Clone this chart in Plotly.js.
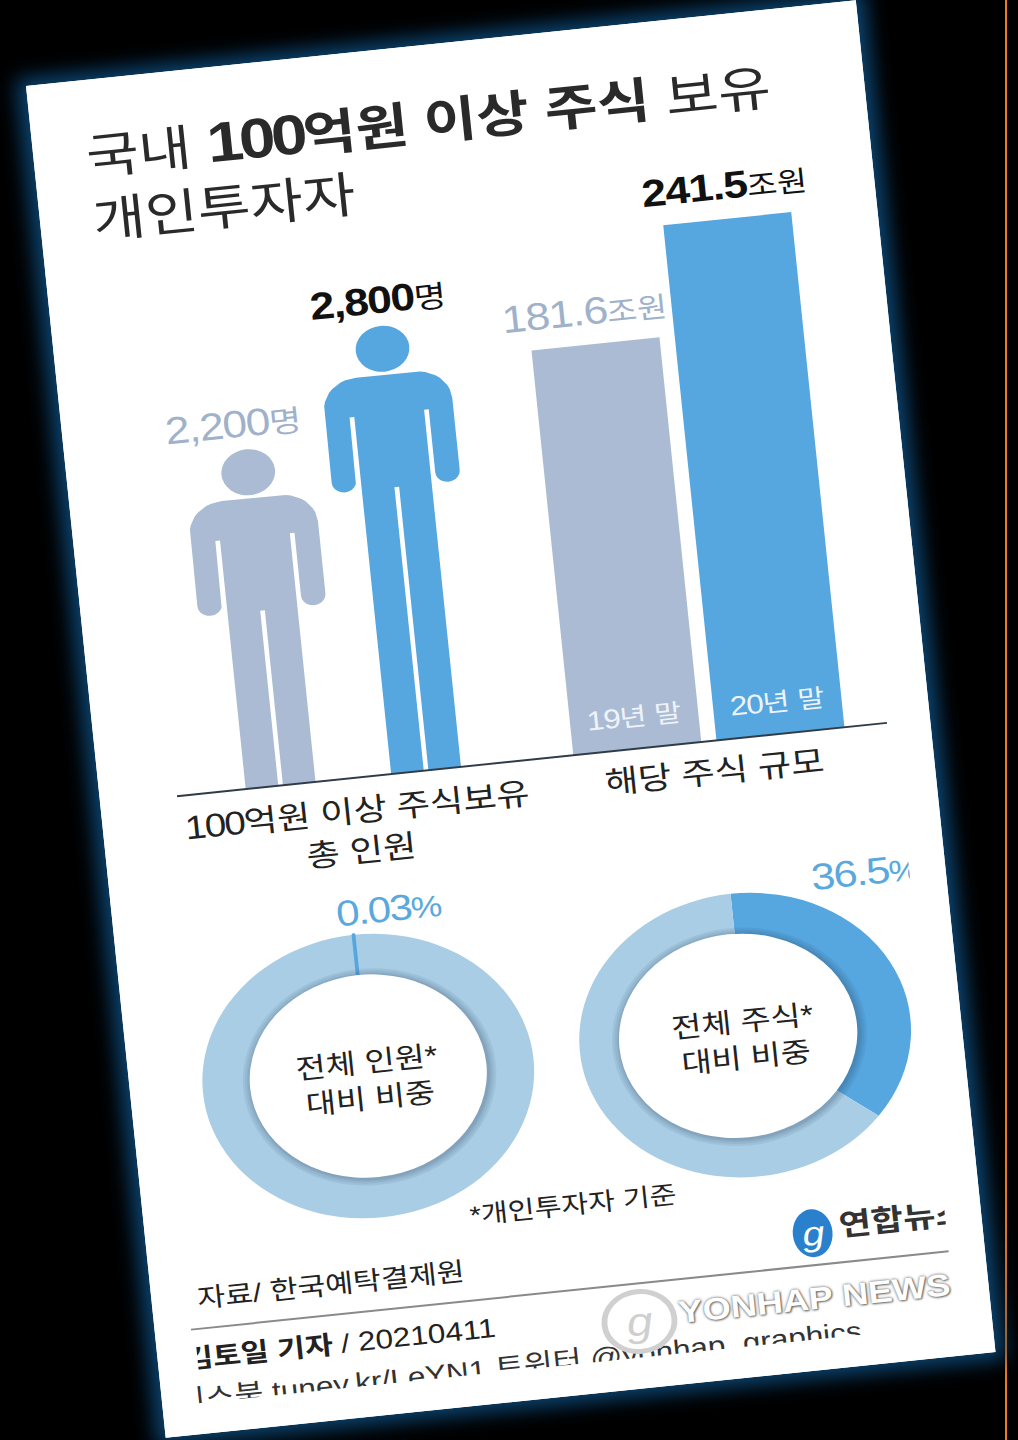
<!DOCTYPE html>
<html lang="ko">
<head>
<meta charset="utf-8">
<script src="https://cdn.plot.ly/plotly-3.0.1.min.js"></script>
<style>
html,body{margin:0;padding:0;background:#000;width:1018px;height:1440px;overflow:hidden}
#rule{position:absolute;left:1005px;top:0;width:2px;height:1440px;background:#ee7a1c}
#card{position:absolute;left:26px;top:86px;width:713px;height:1359px;background:#fff;
  transform-origin:0 0;transform:rotate(-5.9deg) scale(1.17,1);
  box-shadow:0 0 18px 8px #0c4470}
</style>
</head>
<body>
<div id="rule"></div>
<div id="card"></div>
<script>
// ---- data ----
const peopleX = [0, 1];
const peopleValues = [2200, 2800];
const peopleLabels = ['2,200', '2,800'];
const peopleUnit = '명';
const stockCategories = ['19년 말', '20년 말'];
const stockYears = ['19', '20'];
const stockValues = [181.6, 241.5];
const stockLabels = ['181.6', '241.5'];
const stockUnit = '조원';
const shareOfPeople = [99.97, 0.03];
const shareOfStock = [36.5, 63.5];
const shareLabels = ['0.03', '36.5'];
const shareCentre = ['전체 인원*<br>대비 비중', '전체 주식*<br>대비 비중'];
const footnote = '*개인투자자 기준';
const source = '자료/ 한국예탁결제원';
const logoText = '연합뉴스';
const watermark = 'YONHAP NEWS';
const socialLine = '페이스북 tuney.kr/LeYN1 트위터 @yonhap_graphics';

// ---- styling / layout ----
const W = 713, H = 1359;
const FONT = '"Liberation Sans","Noto Sans CJK KR",sans-serif';
const GREY = '#abbbd3', BLUE = '#56a6df', PALE = '#a9cde5';
const GREYTXT = '#a0b1ca', BLUETXT = '#5aa8dc', INK = '#222222';
const px = x => x / W, py = y => 1 - y / H;
const BASE_Y = 722, TOP_Y = 122;
const barMin = -38, barScale = 1.853;
const peopleMin = 340, peopleScale = 0.1817;
// digits are larger and tracked tight: the reference's figures are tall and slim
const num = (s, size, track, bold) => {
  const t = '<span style="font-size:' + size + 'px;letter-spacing:' + (-track) + 'px">' + s + '</span>';
  return bold ? '<b>' + t + '</b>' : t;
};
const unit = (s, size) => '<span style="font-size:' + size + 'px">' + s + '</span>';

const titleLines = ['국내 <b>' + num('100', 56, 3.6) + '억원 이상 주식</b> 보유', '개인투자자'];
const groupLabels = [num('100', 33, 1.5) + '억원 이상 주식보유<br>총 인원', '해당 주식 규모'];
const byline = '<b>김토일 기자</b> / ' + num('20210411', 27, 0);

const data = [];
// stock bars
data.push({type:'bar', x:stockCategories, y:stockValues.map(v => v - barMin), base:barMin,
  marker:{color:[GREY, BLUE], line:{width:0}}, xaxis:'x', yaxis:'y', hoverinfo:'skip', showlegend:false});

// pictogram people: a fixed upper body, legs stretched to the value
function arc(cx, cy, r, a0, a1){
  const out = [];
  for (let i = 0; i <= 10; i++){
    const a = (a0 + (a1 - a0) * i / 10) * Math.PI / 180;
    out.push([cx + r * Math.cos(a), cy + r * Math.sin(a)]);
  }
  return out;
}
function outline(h){
  return [[-25,49],[25,49]]
    .concat(arc(25,79,30,-90,0))
    .concat(arc(44.5,151.5,10.5,0,180))
    .concat([[34,88],[30,88],[30,h],[2,h],[2,162],[-2,162],[-2,h],[-30,h],[-30,88],[-34,88]])
    .concat(arc(-44.5,151.5,10.5,0,180))
    .concat(arc(-25,79,30,180,270));
}
peopleValues.forEach((v, i) => {
  const h = (v - peopleMin) * peopleScale;
  const pts = outline(h);
  const col = i === 0 ? GREY : BLUE;
  data.push({type:'scatter', mode:'lines', fill:'toself', fillcolor:col, line:{width:0, color:col},
    x:pts.map(p => peopleX[i] + p[0] / 125), y:pts.map(p => v - p[1] / peopleScale),
    xaxis:'x2', yaxis:'y2', hoverinfo:'skip', showlegend:false});
  data.push({type:'scatter', mode:'markers', x:[peopleX[i]], y:[v - 23 / peopleScale],
    marker:{size:46, color:col, line:{width:0}}, xaxis:'x2', yaxis:'y2', hoverinfo:'skip', showlegend:false});
});

// donuts
function donut(values, colors, widths, cx, cy){
  const r = 142;
  return {type:'pie', values:values, sort:false, direction:'clockwise', rotation:0, hole:0.6,
    textinfo:'none', hoverinfo:'skip', showlegend:false,
    marker:{colors:colors, line:{color:colors, width:widths}},
    domain:{x:[px(cx - r), px(cx + r)], y:[py(cy + r), py(cy - r)]}};
}
data.push(donut(shareOfPeople, [PALE, BLUE], [0, 3], 204, 1020));
data.push(donut(shareOfStock, [BLUE, PALE], [0, 0], 528, 1018));

// text that the reference shows cut off at the edge of its crop
function clipText(text, x, y, pos, font, band){
  data.push({type:'scatter', mode:'text', text:[text], x:[x], y:[y], textposition:pos,
    textfont:Object.assign({family:FONT}, font), cliponaxis:true,
    xaxis:band ? 'x4' : 'x3', yaxis:band ? 'y4' : 'y3', hoverinfo:'skip', showlegend:false});
}
clipText(num(shareLabels[1], 37, 1.4) + unit('%', 30), 598, 872, 'middle right', {size:35, color:BLUETXT});
clipText(logoText, 591, 1220, 'middle right', {size:30, color:'#333333', weight:700});
clipText(watermark, 447, 1290, 'middle right', {size:31, color:'#ffffff', weight:700, shadow:'0 0 3px #555, 1px 1px 2px #777'});
clipText(byline, 290, 1286, 'middle left', {size:26, color:INK});
clipText(socialLine, 601, 1313, 'bottom left', {size:27, color:'#333333'}, true);

const ann = [];
function textAt(text, X, Y, size, color, anchor){
  ann.push({text, xref:'paper', yref:'paper', x:px(X), y:py(Y), xanchor:anchor || 'center', yanchor:'middle',
    showarrow:false, font:{family:FONT, size, color}});
}
// value labels tied to their marks
const peopleShift = [-9, 0];
peopleValues.forEach((v, i) => ann.push({
  text:num(peopleLabels[i], 38, 1.2, i === 1) + unit(peopleUnit, 30),
  xref:'x2', yref:'y2', x:peopleX[i], y:v, yanchor:'middle', yshift:26, xshift:peopleShift[i],
  showarrow:false, font:{family:FONT, size:36, color:i ? '#111111' : GREYTXT}}));
stockValues.forEach((v, i) => {
  ann.push({text:num(stockLabels[i], 38, 1, i === 1) + unit(stockUnit, 28),
    xref:'x', yref:'y', x:stockCategories[i], y:v, yanchor:'middle', yshift:33, xshift:i ? 0 : -7,
    showarrow:false, font:{family:FONT, size:36, color:i ? '#111111' : GREYTXT}});
  ann.push({text:num(stockYears[i], 27, 1) + stockCategories[i].slice(2), xref:'x', yref:'y', x:stockCategories[i], y:barMin, yanchor:'middle', yshift:32,
    showarrow:false, font:{family:FONT, size:25, color:'#eef3f9'}});
});
textAt(groupLabels[0], 218, 774, 31, INK);
textAt(groupLabels[1], 525, 753, 31, INK);
textAt(num(shareLabels[0], 36, 1.5) + unit('%', 30), 236, 855, 34, BLUETXT);
textAt(shareCentre[0], 204, 1024, 28, INK);
textAt(shareCentre[1], 527, 1022, 28, INK);
textAt(footnote, 367, 1169, 25, INK);
textAt(source, 154, 1224, 26, INK);
textAt('<i>g</i>', 568, 1222, 34, '#ffffff');
textAt('<i>g</i>', 413, 1292, 40, '#cfcfcf');

function ring(cx, cy, r, fill, lineColor, lineWidth){
  return {type:'circle', xref:'paper', yref:'paper', layer:'above',
    x0:px(cx - r), x1:px(cx + r), y0:py(cy + r), y1:py(cy - r),
    fillcolor:fill, line:{color:lineColor || fill, width:lineWidth || 0}};
}
const shapes = [
  {type:'line', xref:'paper', yref:'paper', x0:px(66), x1:px(676), y0:py(BASE_Y), y1:py(BASE_Y), line:{color:'#2f3b47', width:2}, layer:'above'},
  {type:'line', xref:'paper', yref:'paper', x0:px(31), x1:px(682), y0:py(1254), y1:py(1254), line:{color:'#8a8a8a', width:2}, layer:'above'}
];
[[205, 1021, 101.5], [523, 1019, 102]].forEach(c => {
  [7, 5, 3, 1.5].forEach(d => shapes.push(ring(c[0], c[1], c[2] + d, 'rgba(35,60,85,0.08)')));
});
shapes.push(ring(204, 1020, 101.5, '#ffffff'), ring(522, 1018, 102, '#ffffff'));
shapes.push({type:'circle', xref:'paper', yref:'paper', x0:px(551), x1:px(585), y0:py(1246), y1:py(1198), fillcolor:'#2a80cc', line:{width:0}, layer:'above'});
shapes.push(ring(413, 1292, 30, '#ffffff', '#d0d0d0', 5));

const hidden = {visible:false, fixedrange:true};
const layout = {
  width:W, height:H, margin:{l:0, r:0, t:0, b:0, pad:0},
  paper_bgcolor:'#ffffff', plot_bgcolor:'rgba(0,0,0,0)', showlegend:false, hovermode:false,
  font:{family:FONT, color:INK},
  title:{text:titleLines.join('<br>'), x:px(45), xanchor:'left', xref:'paper',
    y:py(95), yanchor:'middle', yref:'paper', font:{family:FONT, size:49, color:'#2a2a2a'}},
  xaxis:Object.assign({}, hidden, {type:'category', domain:[px(400), px(646)], range:[-0.5, 1.5], anchor:'y'}),
  yaxis:Object.assign({}, hidden, {domain:[py(BASE_Y), py(TOP_Y)], range:[barMin, barMin + (BASE_Y - TOP_Y) / barScale], anchor:'x'}),
  xaxis2:Object.assign({}, hidden, {domain:[px(92.5), px(342.5)], range:[-0.5, 1.5], anchor:'y2'}),
  yaxis2:Object.assign({}, hidden, {domain:[py(BASE_Y), py(TOP_Y)], range:[peopleMin, peopleMin + (BASE_Y - TOP_Y) / peopleScale], anchor:'x2'}),
  xaxis3:Object.assign({}, hidden, {domain:[px(34), px(682)], range:[34, 682], anchor:'y3'}),
  yaxis3:Object.assign({}, hidden, {domain:[0, 1], range:[H, 0], anchor:'x3'}),
  xaxis4:Object.assign({}, hidden, {domain:[px(31), px(682)], range:[31, 682], anchor:'y4'}),
  yaxis4:Object.assign({}, hidden, {domain:[py(1328), py(1296)], range:[1328, 1296], anchor:'x4'}),
  bargap:0.106,
  annotations:ann, shapes:shapes
};
Plotly.newPlot('card', data, layout, {displayModeBar:false, staticPlot:true});
</script>
</body>
</html>
